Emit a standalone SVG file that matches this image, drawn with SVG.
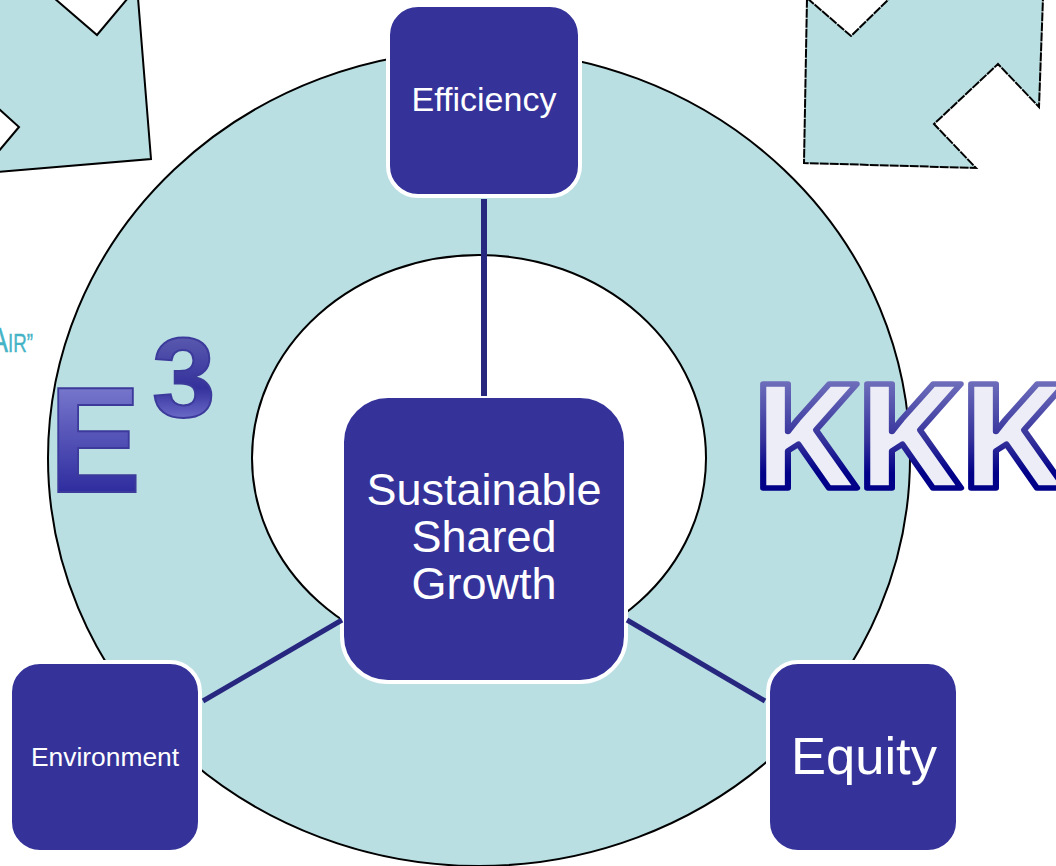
<svg xmlns="http://www.w3.org/2000/svg" width="1056" height="866" viewBox="0 0 1056 866">
<style>
.shape{fill:#b9dfe3;stroke:#000;stroke-width:2}
.node{fill:#353399;stroke:#fff;stroke-width:4}
.lbl{font-family:"Liberation Sans",Arial,sans-serif;fill:#fff;text-anchor:middle}
.link{stroke:#28277f;stroke-width:5;fill:none}
</style>
<defs>
<linearGradient id="kk" gradientUnits="userSpaceOnUse" x1="0" y1="-106" x2="0" y2="2"><stop offset="0" stop-color="#6d6dbb"/><stop offset="0.55" stop-color="#33309a"/><stop offset="0.85" stop-color="#000088"/></linearGradient>
<linearGradient id="e" gradientUnits="userSpaceOnUse" x1="0" y1="-104" x2="0" y2="2"><stop offset="0" stop-color="#7676cc"/><stop offset="1" stop-color="#2e2b9e"/></linearGradient>
<linearGradient id="th" gradientUnits="userSpaceOnUse" x1="0" y1="332" x2="0" y2="418"><stop offset="0" stop-color="#5d5db0"/><stop offset="0.65" stop-color="#34319c"/><stop offset="1" stop-color="#6a6ac8"/></linearGradient>
</defs>
<g id="ring"><ellipse class="shape" cx="479" cy="458" rx="431" ry="408"/><ellipse cx="479" cy="458" rx="227" ry="203" fill="#fff" stroke="#000" stroke-width="2"/></g>
<polygon id="arrow-left" class="shape" points="-2,172 151,159 138,-2 128,-2 97,35 54,-2 -2,-2 -2,108 19,127 -2,152"/>
<polygon id="arrow-right" class="shape" stroke="#222" stroke-dasharray="9 1" points="807,-2 851,36 890,-2 1043,-2 1039,107 998,64 934,124 976,168 804,163"/>
<g id="efficiency"><rect class="node" x="388" y="5" width="192" height="191" rx="30"/><text class="lbl" x="484" y="111" font-size="34">Efficiency</text></g>
<g id="center"><rect class="node" x="342" y="396" width="284" height="286" rx="46"/><text class="lbl" font-size="45"><tspan x="484" y="505">Sustainable</tspan><tspan x="484" y="552">Shared</tspan><tspan x="484" y="599">Growth</tspan></text></g>
<g id="environment"><rect class="node" x="10" y="662" width="190" height="190" rx="30"/><text class="lbl" x="105" y="766" font-size="26.400">Environment</text></g>
<g id="equity"><rect class="node" x="768" y="662" width="190" height="190" rx="30"/><text class="lbl" x="864" y="774" font-size="52.500">Equity</text></g>
<g id="connectors"><line class="link" style="stroke-width:6" x1="484" y1="199" x2="484" y2="396"/><line class="link" x1="342" y1="620" x2="203" y2="701"/><line class="link" x1="627" y1="620" x2="765" y2="701"/></g>
<g id="e3" font-family="'Liberation Sans',Arial,sans-serif" font-weight="700"><text transform="translate(49 492) scale(.92 1)" font-size="150" fill="url(#e)" stroke="#3c3a9b" stroke-width="2">E</text><text x="152" y="417" font-size="114" fill="url(#th)" stroke="#3c3a9b" stroke-width="2">3</text></g>
<text id="kkk" transform="translate(748.400 488) scale(1.12 1)" font-family="'Open Sans',sans-serif" font-weight="700" font-size="146" fill="#ecedf6" stroke="url(#kk)" stroke-width="5.500" stroke-linejoin="round" letter-spacing="-4">KKK</text>
<text id="air" transform="translate(-9.500 352) scale(.75 1)" font-family="'Liberation Sans',sans-serif" fill="#45b3c6" stroke="#45b3c6" stroke-width=".4" font-size="35">A<tspan font-size="25">IR”</tspan></text>
</svg>
